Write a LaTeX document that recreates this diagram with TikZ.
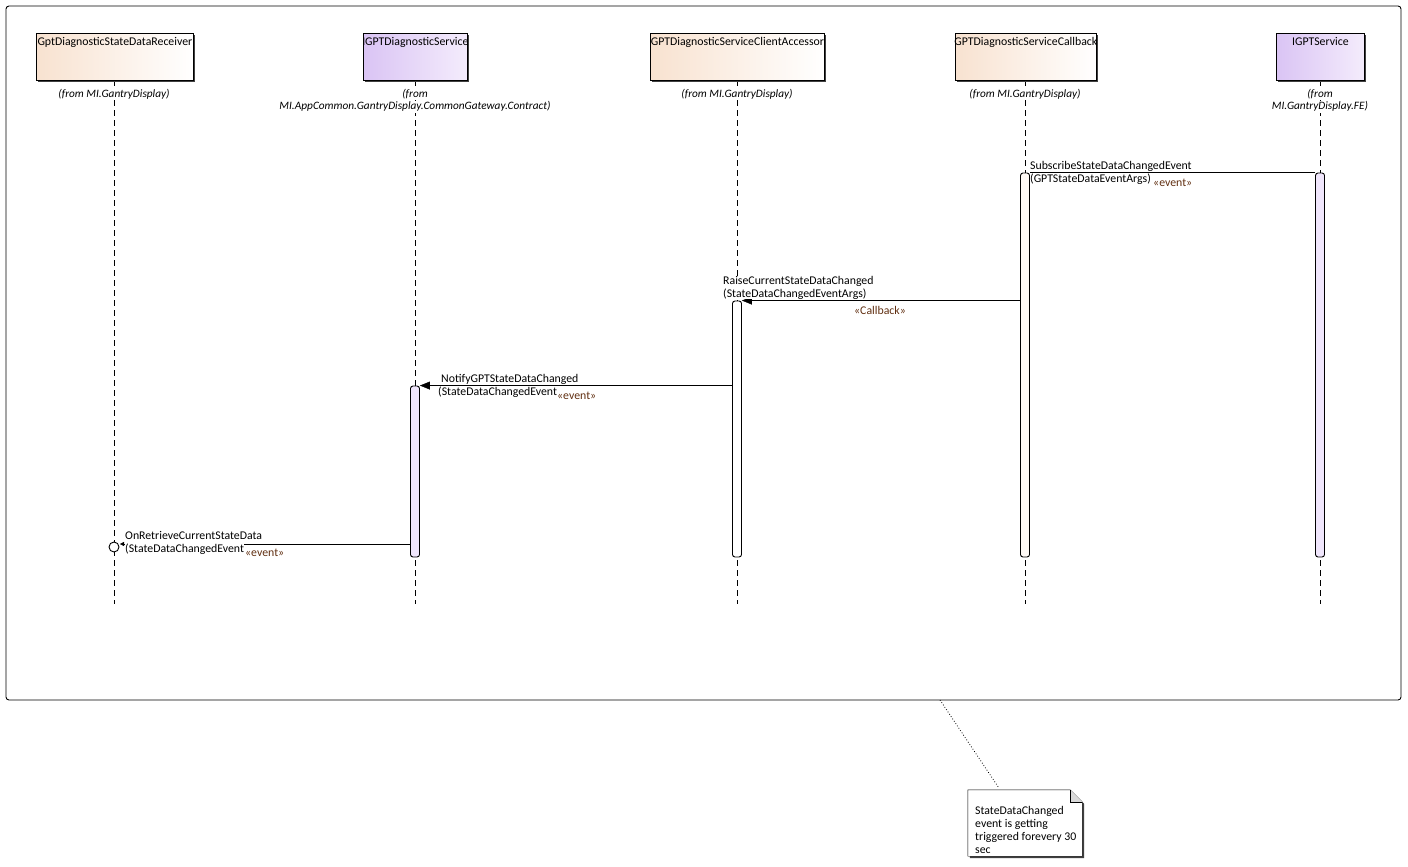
\documentclass[tikz,border=0pt]{standalone}
\usepackage{fontspec}
\setmainfont{Carlito}
\usepackage{xcolor}
\usetikzlibrary{arrows.meta,positioning,calc,shadows}
\definecolor{peach}{RGB}{248,226,208}
\definecolor{lilac}{RGB}{218,196,244}
\definecolor{lilacpale}{RGB}{244,236,252}
\definecolor{actpurple}{RGB}{240,230,252}
\definecolor{actwhite}{RGB}{255,250,246}
\definecolor{stereo}{RGB}{96,46,16}
\tikzset{
    lifehead/.style={rectangle, draw, thick, inner sep=0pt, minimum height=47pt,
        general shadow={fill=black!75, shadow xshift=2pt, shadow yshift=-2pt}},
    classhead/.style={lifehead, left color=peach, right color=white},
    ifhead/.style={lifehead, left color=lilac, right color=lilacpale},
    headtxt/.style={anchor=north, inner sep=0pt, yshift=-4pt, font=\fontsize{11.8}{13}\selectfont},
    fromlbl/.style={anchor=base, fill=white, inner sep=1pt, font=\fontsize{11.3}{13}\selectfont\itshape},
    lifeline/.style={dashed, dash pattern=on 6pt off 4pt},
    activ/.style={rectangle, draw, line width=0.9pt, rounded corners=2.5pt, minimum width=9pt, inner sep=0pt},
    msg/.style={-{Triangle[length=10pt,width=8pt]}},
    msglbl/.style={anchor=base west, inner sep=0pt, font=\fontsize{11.8}{13}\selectfont},
    stereolbl/.style={anchor=base west, inner sep=0pt, text=stereo, font=\fontsize{11.8}{13}\selectfont},
}
\begin{document}
\begin{tikzpicture}[x=1pt, y=-1pt]
    \useasboundingbox (0,0) rectangle (1408,867);
    \draw[line width=0.9pt, rounded corners=3pt] (6,6) rectangle (1401,700);

    % lifelines
    \foreach \x in {114, 415, 737, 1025, 1320}
        \draw[lifeline] (\x,80) -- (\x,604);

    % heads
    \node[classhead, minimum width=157pt, anchor=north west] (recv) at (36,33) {};
    \node[headtxt] at (recv.north) {GptDiagnosticStateDataReceiver};
    \node[ifhead, minimum width=104pt, anchor=north west] (svc) at (363,33) {};
    \node[headtxt] at (svc.north) {IGPTDiagnosticService};
    \node[classhead, minimum width=174pt, anchor=north west] (acc) at (650,33) {};
    \node[headtxt] at (acc.north) {GPTDiagnosticServiceClientAccessor};
    \node[classhead, minimum width=141pt, anchor=north west] (cb) at (955,33) {};
    \node[headtxt] at (cb.north) {GPTDiagnosticServiceCallback};
    \node[ifhead, minimum width=88pt, anchor=north west] (igpt) at (1276,33) {};
    \node[headtxt] at (igpt.north) {IGPTService};

    \node[fromlbl] at (114,97) {(from MI.GantryDisplay)};
    \node[fromlbl] at (415,97) {(from};
    \node[fromlbl] at (415,110) {MI.AppCommon.GantryDisplay.CommonGateway.Contract)};
    \node[fromlbl] at (737,97) {(from MI.GantryDisplay)};
    \node[fromlbl] at (1025,97) {(from MI.GantryDisplay)};
    \node[fromlbl] at (1320,97) {(from};
    \node[fromlbl] at (1320,110) {MI.GantryDisplay.FE)};

    % activations
    \node[activ, fill=actwhite, minimum height=384pt] (cbact) at (1025,365) {};
    \node[activ, fill=actpurple, minimum height=384pt] (igptact) at (1320,365) {};
    \node[activ, fill=white, minimum height=256pt] (accact) at (737,429) {};
    \node[activ, fill=actpurple, minimum height=171pt] (svcact) at (415,471.5) {};
    \node[circle, draw, line width=0.9pt, fill=white, minimum size=10pt, inner sep=0pt] (found) at (114,547) {};

    % messages
    \draw (igptact.north west) -- (cbact.north east);
    \node[msglbl, fill=white] at (1030,169) {SubscribeStateDataChangedEvent};
    \node[msglbl, fill=white] at (1030,182) {(GPTStateDataEventArgs)};
    \node[stereolbl] at (1153,186) {«event»};

    \draw[msg] (cbact.west |- accact.north) -- (accact.north east);
    \node[msglbl, fill=white] at (723,284) {RaiseCurrentStateDataChanged};
    \node[msglbl, fill=white] at (723,297) {(StateDataChangedEventArgs)};
    \node[stereolbl, anchor=base] at (880,314) {«Callback»};

    \draw[msg] (accact.west |- svcact.north) -- (svcact.north east);
    \node[msglbl, fill=white] at (441,382) {NotifyGPTStateDataChanged};
    \node[msglbl, fill=white] at (438,395) {(StateDataChangedEvent};
    \node[stereolbl] at (557,399) {«event»};

    \coordinate (foundin) at (120,544);
    \draw[-{Triangle[length=4pt,width=4pt]}] (svcact.west |- foundin) -- (foundin);
    \node[msglbl, fill=white] at (125,539) {OnRetrieveCurrentStateData};
    \node[msglbl, fill=white] at (125,552) {(StateDataChangedEvent};
    \node[stereolbl] at (245,556) {«event»};

    % note
    \node[rectangle, minimum width=114pt, minimum height=66pt, inner sep=0pt] (note) at (1025,823) {};
    \fill[black!75] ($(note.north west)+(2,2)$) -- ($(note.north east)+(-10,2)$) -- ($(note.north east)+(2,14)$)
        -- ($(note.south east)+(2,2)$) -- ($(note.south west)+(2,2)$) -- cycle;
    \draw[fill=white] (note.north west) -- ($(note.north east)+(-12,0)$) -- ($(note.north east)+(0,12)$)
        -- (note.south east) -- (note.south west) -- cycle;
    \draw[fill=black!15] ($(note.north east)+(-12,0)$) -- ($(note.north east)+(-12,12)$) -- ($(note.north east)+(0,12)$);
    \node[msglbl] at (975,814) {StateDataChanged};
    \node[msglbl] at (975,827) {event is getting};
    \node[msglbl] at (975,840) {triggered forevery 30};
    \node[msglbl] at (975,853) {sec};
    \coordinate (frmpt) at (940,700);
    \draw[dotted, thick] (frmpt) -- ($(note.north west)+(31,-2)$);
\end{tikzpicture}
\end{document}
